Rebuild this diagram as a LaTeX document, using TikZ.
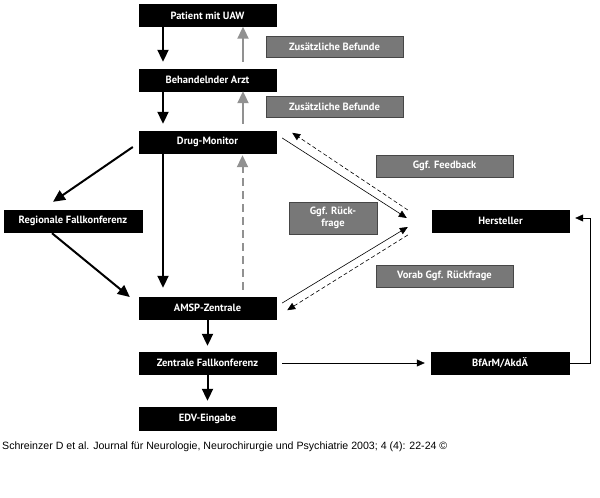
\documentclass[tikz,border=0pt]{standalone}
\usepackage{fontspec}
\setmainfont{PT Sans}
\newfontfamily\capfont{Liberation Sans}
\usetikzlibrary{arrows.meta,calc}
\definecolor{gfill}{RGB}{120,120,120}
\definecolor{gline}{RGB}{70,70,70}
\definecolor{garrow}{RGB}{145,145,145}
\begin{document}
\begin{tikzpicture}[x=1pt,y=-1pt,
  blackbox/.style={fill=black,draw=black,minimum width=137pt,minimum height=22pt,inner sep=0pt,text=white,font=\bfseries\fontsize{10.5}{11}\selectfont},
  graybox/.style={fill=gfill,draw=gline,line width=0.6pt,minimum width=137pt,minimum height=21pt,inner sep=0pt,text=white,font=\bfseries\fontsize{10.5}{11}\selectfont,align=center},
  thick arrow/.style={line width=2pt,-{Triangle[length=12pt,width=11pt]}},
  gray arrow/.style={line width=2pt,draw=garrow,-{Triangle[length=12pt,width=11pt]},color=garrow},
  thin arrow/.style={line width=0.6pt,-{Triangle[length=8pt,width=7pt]}},
  thin dashed/.style={line width=0.6pt,dashed,dash pattern=on 4pt off 2.5pt,-{Triangle[length=8pt,width=7pt]}}
]
\useasboundingbox (0,0) rectangle (600,498);
\fill[white] (0,0) rectangle (600,498);

% black boxes
\node[blackbox] (pat) at (207.5,15.5) {Patient mit UAW};
\node[blackbox] (arzt) at (207.5,80) {Behandelnder Arzt};
\node[blackbox] (dm) at (207.5,142) {Drug-Monitor};
\node[blackbox,minimum width=138pt] (reg) at (73,221) {Regionale Fallkonferenz};
\node[blackbox] (amsp) at (207.5,308) {AMSP-Zentrale};
\node[blackbox] (zf) at (207.5,363) {Zentrale Fallkonferenz};
\node[blackbox,minimum height=23pt] (edv) at (207.5,418.5) {EDV-Eingabe};
\node[blackbox,minimum width=138pt] (bfa) at (500,363) {BfArM/AkdÄ};
\node[blackbox] (hst) at (500.5,221) {Hersteller};

% gray boxes
\node[graybox] (zb1) at (334.5,46.5) {Zusätzliche Befunde};
\node[graybox] (zb2) at (334.5,107) {Zusätzliche Befunde};
\node[graybox,minimum height=22pt] (fb) at (444.5,166) {Ggf. Feedback};
\node[graybox,minimum width=88pt,minimum height=32pt,font=\bfseries\fontsize{10.5}{11.5}\selectfont] (rf) at (333,218) {Ggf. Rück-\\frage};
\node[graybox,minimum height=22pt] (vr) at (444.5,276) {Vorab Ggf. Rückfrage};

% vertical arrows left column
\draw[thick arrow,shorten >=7pt] ([xshift=-44.5pt]pat.south) -- ([xshift=-44.5pt]arzt.north);
\draw[gray arrow,shorten <=7pt] ([xshift=35.5pt]arzt.north) -- ([xshift=35.5pt]pat.south);
\draw[thick arrow,shorten >=7pt] ([xshift=-44.5pt]arzt.south) -- ([xshift=-44.5pt]dm.north);
\draw[gray arrow,shorten <=7pt] ([xshift=35.5pt]dm.north) -- ([xshift=35.5pt]arzt.south);
\draw[thick arrow,shorten >=9pt] ([xshift=-44.5pt]dm.south) -- ([xshift=-44.5pt]amsp.north);
\draw[gray arrow,dashed,dash pattern=on 8pt off 5pt,shorten <=7pt,shorten >=2pt] ([xshift=35pt]amsp.north) -- ([xshift=35pt]dm.south);
\draw[thick arrow,shorten >=6pt] (amsp.south) -- (zf.north);
\draw[thick arrow,shorten >=6pt] (zf.south) -- (edv.north);

% diagonals to/from Regionale Fallkonferenz
\draw[thick arrow] ($(dm.west)+(-6,5)$) -- ($(reg.north)+(-20,-8)$);
\draw[thick arrow] ($(reg.south)+(-21,1)$) -- ($(amsp.west)+(-9,-11)$);

% arrows to/from Hersteller
\coordinate (hin) at ($(hst.west)+(-24,0)$);
\draw[thin arrow] ($(dm.east)+(6,-4)$) -- ($(hin)+(-1,-3)$);
\draw[thin dashed] ($(hin)+(0,-11)$) -- ($(dm.north east)+(16,2)$);
\draw[thin arrow] ($(amsp.east)+(6,-5)$) -- ($(hin)+(0,6)$);
\draw[thin dashed] ($(hin)+(0,14)$) -- ($(amsp.south east)+(11,-9)$);

% Zentrale -> BfArM -> Hersteller
\draw[thin arrow,shorten <=6pt,shorten >=6pt] (zf.east) -- (bfa.west);
\draw[thin arrow,shorten >=6pt] (bfa.east) -- ++(21,0) |- ($(hst.east)+(0,-3)$);

% caption
\node[anchor=west,inner sep=0pt,font=\capfont\fontsize{10.6}{11}\selectfont] (cap) at (2,447) {Schreinzer D et al. Journal für Neurologie, Neurochirurgie und Psychiatrie 2003; 4 (4): 22-24 ©};
\end{tikzpicture}
\end{document}
